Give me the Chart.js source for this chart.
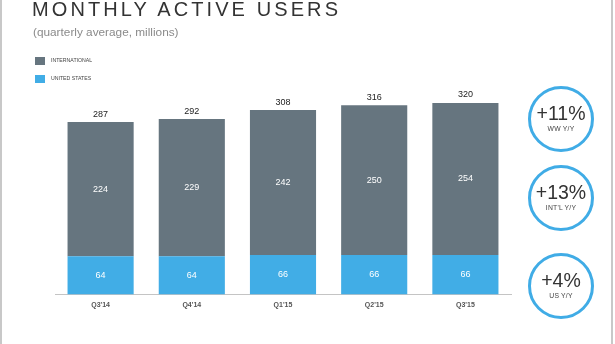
<!DOCTYPE html>
<html>
<head>
<meta charset="utf-8">
<script src="https://cdn.jsdelivr.net/npm/chart.js@4.4.1/dist/chart.umd.min.js"></script>
<style>
  html, body { margin: 0; padding: 0; background: #fff; }
  body { width: 615px; height: 344px; position: relative; overflow: hidden;
         font-family: "Liberation Sans", Arial, sans-serif; }
  .frame { position: absolute; left: 0; top: -2px; width: 613px; height: 350px;
           border-left: 2px solid #c8c8c8; border-right: 2px solid #c8c8c8; box-sizing: border-box; }
  #chart { position: absolute; left: 0; top: 0; }
  .title { position: absolute; left: 32px; top: -2px; font-size: 20px; letter-spacing: 3.1px;
           color: #333; font-weight: normal; white-space: nowrap; }
  .subtitle { position: absolute; left: 33px; top: 25px; font-size: 11.8px; color: #8a8a8a; }
  .legend { position: absolute; left: 35px; font-size: 5.2px; color: #444; }
  .legend span { display: inline-block; width: 10px; height: 8px; vertical-align: middle; margin-right: 6px; }
  .badge { position: absolute; left: 528px; width: 60px; height: 60px; border: 3px solid #40ace6;
           border-radius: 50%; text-align: center; color: #333; }
  .badge b { display: block; font-weight: normal; font-size: 19.5px; margin-top: 14px; line-height: 20px; }
  .badge i { display: block; font-style: normal; font-size: 6.8px; color: #444; margin-top: 2px; letter-spacing: 0.2px; }
</style>
</head>
<body>
<div class="frame"></div>
<canvas id="chart" width="615" height="344"></canvas>
<div class="title">MONTHLY ACTIVE USERS</div>
<div class="subtitle">(quarterly average, millions)</div>
<div class="legend" style="top:57px"><span style="background:#66757f"></span>INTERNATIONAL</div>
<div class="legend" style="top:75px"><span style="background:#41ade6"></span>UNITED STATES</div>
<div class="badge" style="top:86px"><b>+11%</b><i>WW Y/Y</i></div>
<div class="badge" style="top:165px"><b>+13%</b><i>INT'L Y/Y</i></div>
<div class="badge" style="top:253px"><b>+4%</b><i>US Y/Y</i></div>
<script>
const quarters = ['Q3\'14', 'Q4\'14', 'Q1\'15', 'Q2\'15', 'Q3\'15'];
const usUsers = [64, 64, 66, 66, 66];
const intlUsers = [224, 229, 242, 250, 254];
const totalUsers = [287, 292, 308, 316, 320];

// segment values inside the bars, totals above the top of each stack
const valueLabels = {
  id: 'valueLabels',
  afterDatasetsDraw(chart) {
    const ctx = chart.ctx;
    ctx.save();
    ctx.textAlign = 'center';
    ctx.textBaseline = 'middle';
    ctx.font = '9px "Liberation Sans", Arial, sans-serif';
    chart.data.datasets.forEach((ds, i) => {
      chart.getDatasetMeta(i).data.forEach((bar, j) => {
        ctx.fillStyle = '#fff';
        ctx.fillText(ds.data[j], bar.x, (bar.y + bar.base) / 2);
      });
    });
    const top = chart.getDatasetMeta(1).data;
    ctx.fillStyle = '#222';
    top.forEach((bar, j) => ctx.fillText(totalUsers[j], bar.x, bar.y - 8));
    ctx.restore();
  }
};

new Chart(document.getElementById('chart'), {
  type: 'bar',
  data: {
    labels: quarters,
    datasets: [
      { label: 'United States', data: usUsers, backgroundColor: '#41ade6' },
      { label: 'International', data: intlUsers, backgroundColor: '#66757f' }
    ]
  },
  options: {
    responsive: false,
    animation: false,
    events: [],
    layout: { padding: { left: 55, right: 104, top: 55, bottom: 29 } },
    datasets: { bar: { barPercentage: 0.725, categoryPercentage: 1 } },
    plugins: { legend: { display: false }, tooltip: { enabled: false } },
    scales: {
      x: {
        stacked: true,
        grid: { display: false, drawTicks: false },
        border: { color: '#c4c4c4', dash: [1, 2] },
        ticks: { color: '#555', font: { size: 7, weight: 'bold' }, padding: 6 }
      },
      y: { stacked: true, display: false, min: 0, max: 400 }
    }
  },
  plugins: [valueLabels]
});
</script>
</body>
</html>
